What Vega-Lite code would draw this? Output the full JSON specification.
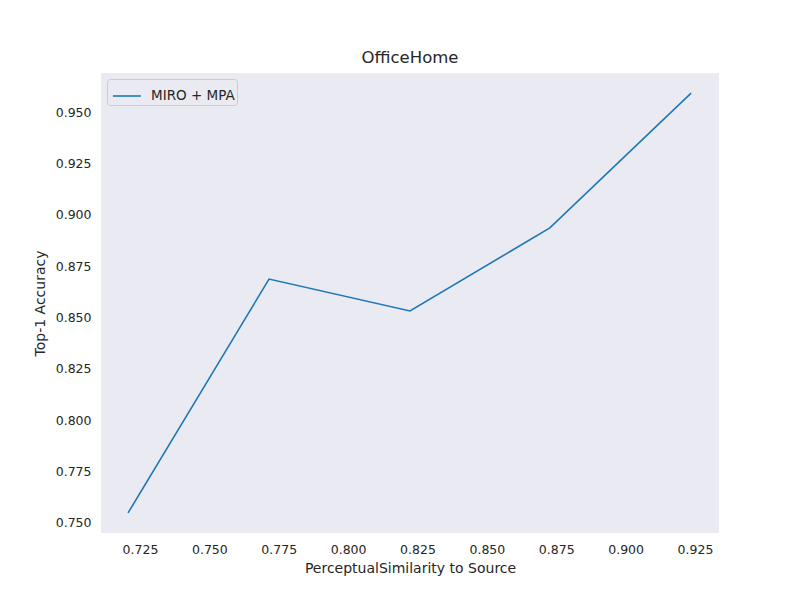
{
  "$schema": "https://vega.github.io/schema/vega-lite/v6.json",
  "width": 618,
  "height": 460,
  "autosize": "none",
  "padding": {"left": 101, "top": 73, "right": 81, "bottom": 67},
  "background": "white",
  "config": {
    "font": "DejaVu Sans",
    "view": {"fill": "#EAEAF2", "stroke": null},
    "axis": {
      "grid": false, "domain": false, "ticks": false,
      "labelFont": "DejaVu Sans", "labelFontSize": 12.5, "labelColor": "#262626",
      "titleFont": "DejaVu Sans", "titleFontSize": 14, "titleColor": "#262626", "titleFontWeight": "normal"
    }
  },
  "title": {"text": "OfficeHome", "font": "DejaVu Sans", "fontSize": 16.5, "fontWeight": "normal", "color": "#262626", "offset": 7},
  "data": {"values": [
    {"x": 0.7207, "y": 0.7549, "series": "MIRO + MPA"},
    {"x": 0.7715, "y": 0.8687, "series": "MIRO + MPA"},
    {"x": 0.8223, "y": 0.8532, "series": "MIRO + MPA"},
    {"x": 0.8727, "y": 0.8936, "series": "MIRO + MPA"},
    {"x": 0.9236, "y": 0.9592, "series": "MIRO + MPA"}
  ]},
  "mark": {"type": "line", "strokeWidth": 1.6},
  "encoding": {
    "x": {"field": "x", "type": "quantitative",
      "scale": {"domain": [0.71095, 0.93365], "nice": false, "zero": false},
      "axis": {"values": [0.725, 0.75, 0.775, 0.8, 0.825, 0.85, 0.875, 0.9, 0.925], "format": ".3f", "labelPadding": 10, "title": "PerceptualSimilarity to Source", "titlePadding": 6}},
    "y": {"field": "y", "type": "quantitative",
      "scale": {"domain": [0.74513, 0.96898], "nice": false, "zero": false},
      "axis": {"values": [0.75, 0.775, 0.8, 0.825, 0.85, 0.875, 0.9, 0.925, 0.95], "format": ".3f", "labelPadding": 10, "title": "Top-1 Accuracy", "titlePadding": 8}},
    "color": {"field": "series", "type": "nominal",
      "scale": {"range": ["#1f77b4"]},
      "legend": {"title": null, "orient": "none", "legendX": 6, "legendY": 6,
        "symbolType": "M-0.79,0H1.21", "symbolSize": 784, "symbolStrokeWidth": 1.6,
        "labelFontSize": 13.5, "labelColor": "#262626", "labelFont": "DejaVu Sans", "labelOffset": 12,
        "fillColor": "#EAEAF2", "strokeColor": "#CCCCCC", "cornerRadius": 3, "padding": 2}}
  }
}
